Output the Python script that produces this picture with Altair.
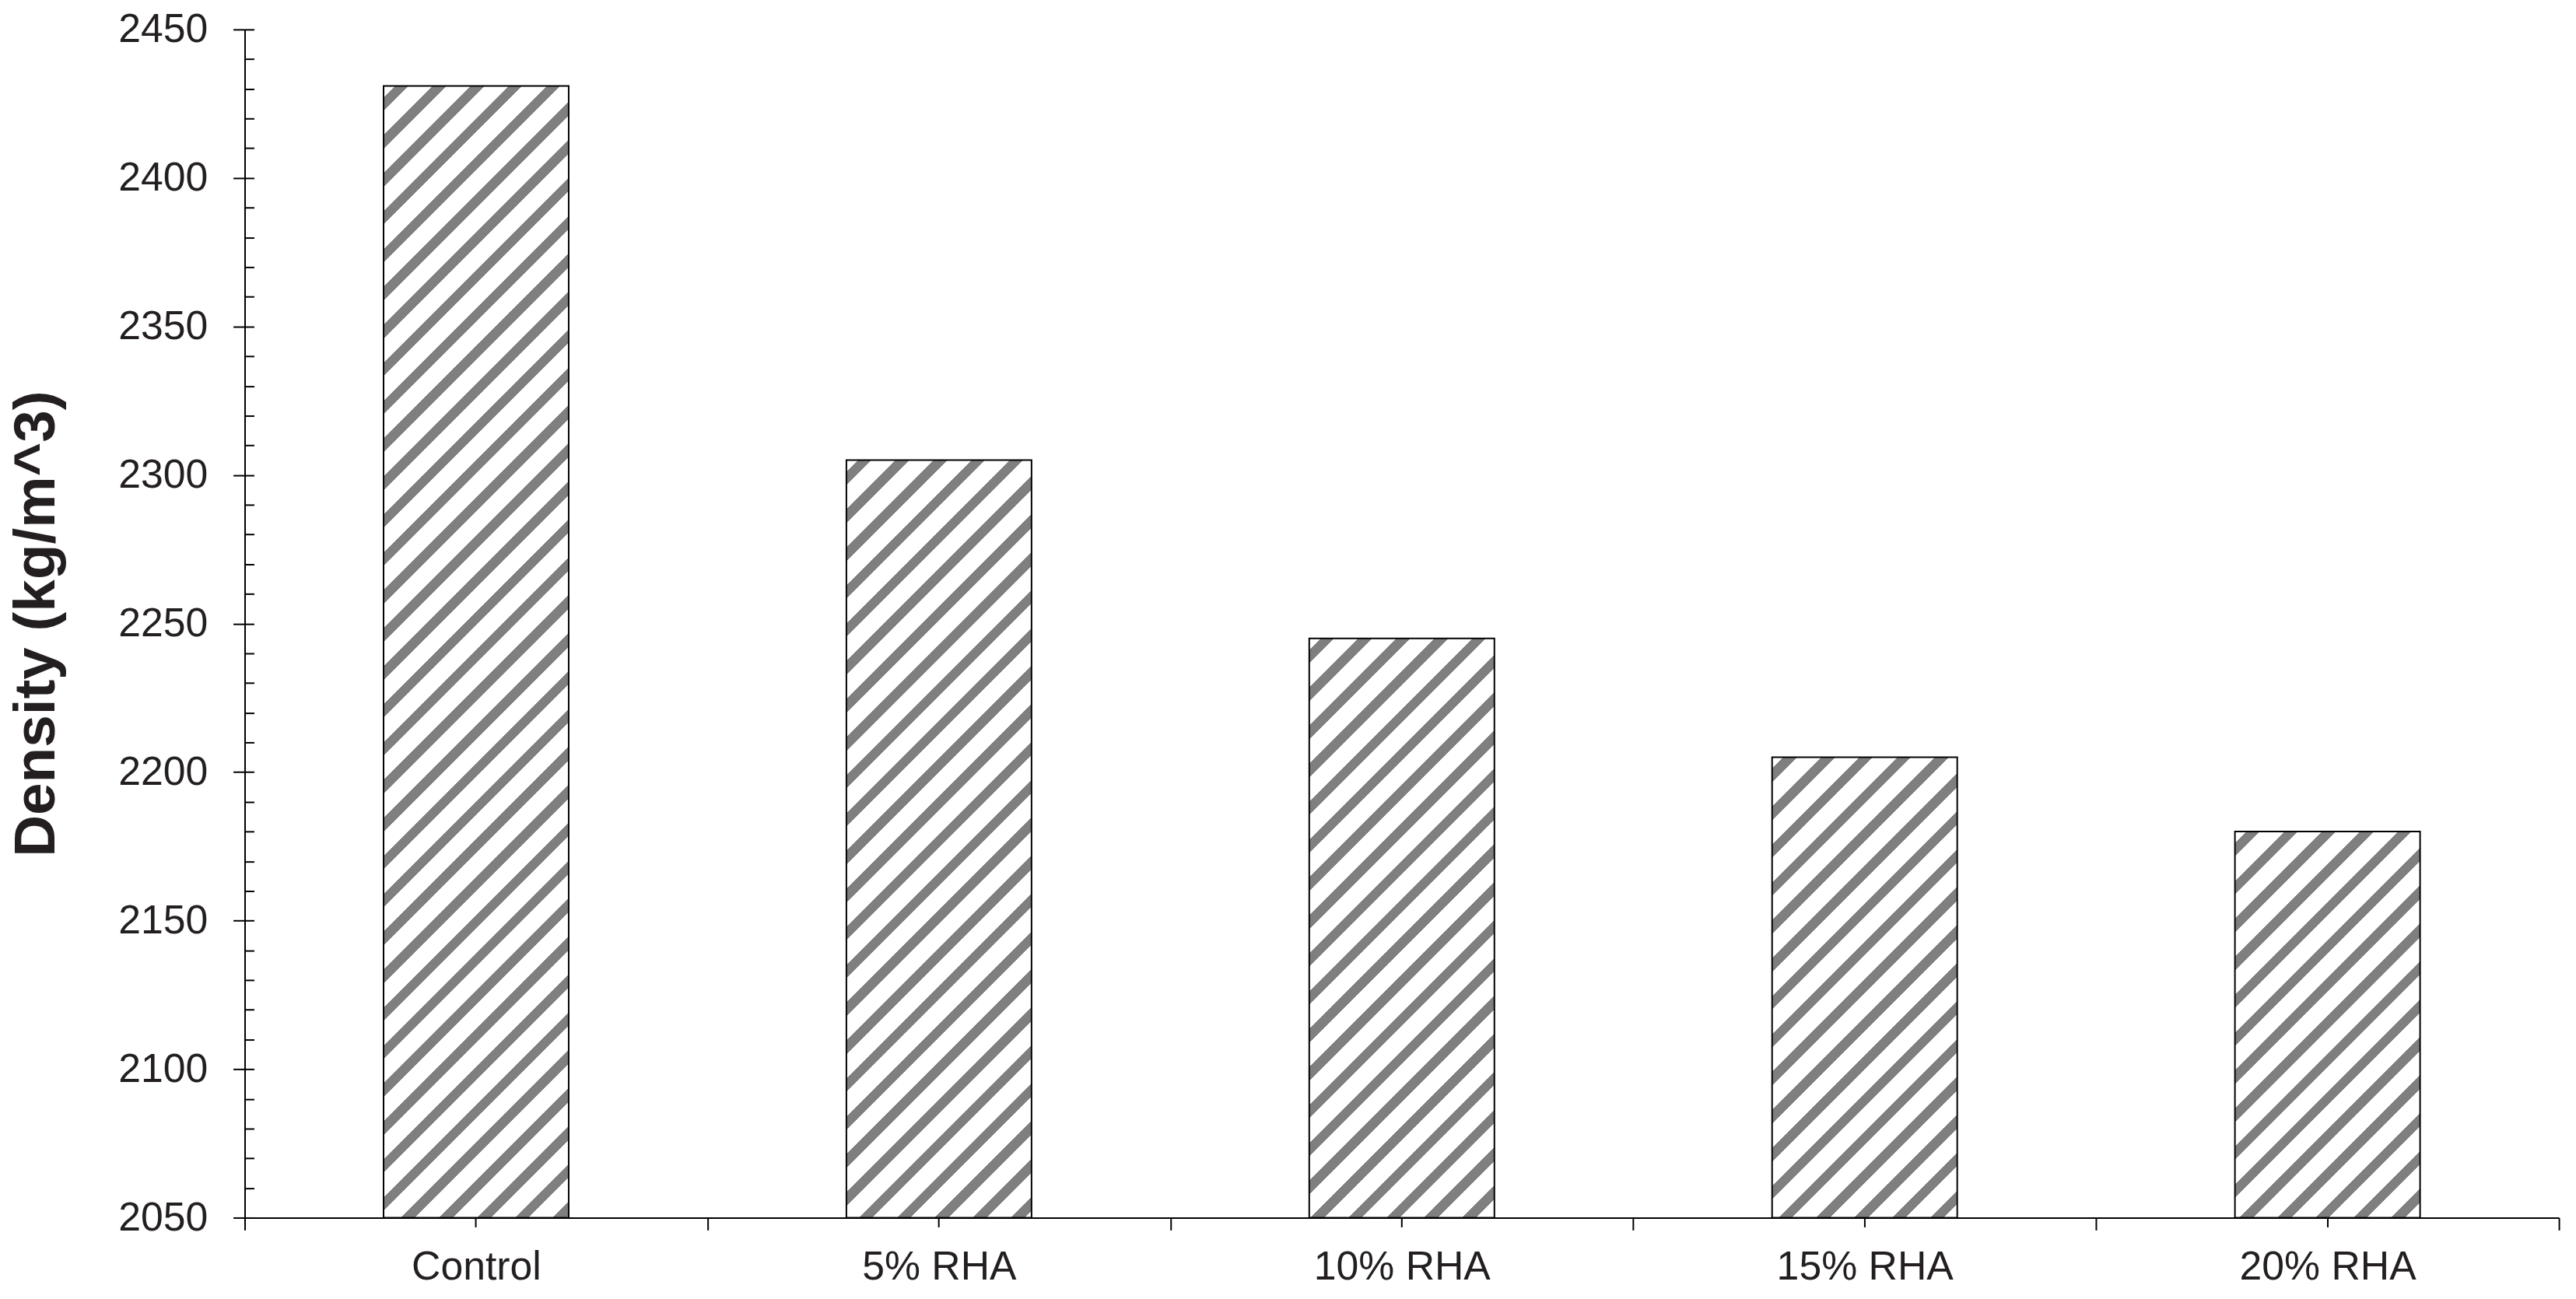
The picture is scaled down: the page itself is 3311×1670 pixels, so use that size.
import altair as alt
import pandas as pd

# ---- data ----
categories = ["Control", "5% RHA", "10% RHA", "15% RHA", "20% RHA"]
density = [2431, 2305, 2245, 2205, 2180]
y_min, y_max = 2050, 2450
major_ticks = list(range(2050, 2451, 50))
minor_ticks = list(range(2050, 2451, 10))

df = pd.DataFrame({"Mix": categories, "Density": density})

# ---- layout / style ----
PLOT_W, PLOT_H = 2989, 1535
BAR_FRAC = 0.4
BAR_W = PLOT_W / len(categories) * BAR_FRAC
FONT = "Liberation Sans, Arial, Helvetica, sans-serif"
TXT = "#231f20"
GRAY = "#7f7f7f"


def hatch(value, period=49.0, frac=0.36, phase=0.3):
    """Diagonal (/) stripe fill built as a hard-stop linear gradient."""
    h = (value - y_min) / (y_max - y_min) * PLOT_H
    w = BAR_W
    s = w * (w + h) / (w * w + h * h)
    p = period / (w + h)
    stops = [{"offset": 0, "color": "white"}]
    k = -1
    while True:
        a = (phase + k) * p
        b = a + frac * p
        k += 1
        if b <= 0:
            continue
        if a >= 1:
            break
        a0, b0 = max(a, 0.0), min(b, 1.0)
        stops.append({"offset": a0, "color": "white"})
        stops.append({"offset": a0, "color": GRAY})
        stops.append({"offset": b0, "color": GRAY})
        stops.append({"offset": b0, "color": "white"})
    stops.append({"offset": 1, "color": "white"})
    return {"gradient": "linear", "x1": 0, "y1": 0, "x2": s, "y2": s * h / w,
            "stops": stops}


fill_conditions = [
    {"test": f"datum.Mix === '{c}'", "value": hatch(v)}
    for c, v in zip(categories, density)
]

xscale = alt.Scale(paddingInner=0, paddingOuter=0)
yscale = alt.Scale(domain=[y_min, y_max], nice=False, zero=False)

bars = alt.Chart(df).mark_bar(
    stroke="black", strokeWidth=2, width={"band": BAR_FRAC}
).encode(
    x=alt.X("Mix:N", sort=categories, scale=xscale,
            axis=alt.Axis(orient="bottom", title=None, tickBand="extent",
                          tickSize=16, tickWidth=2, tickColor="black",
                          domainWidth=2, domainColor="black",
                          labelAngle=0, labelFontSize=52, labelFont=FONT,
                          labelColor=TXT, labelPadding=22, labelLimit=0)),
    y=alt.Y("Density:Q", scale=yscale,
            axis=alt.Axis(orient="left", values=major_ticks, format="d",
                          title="Density (kg/m^3)",
                          tickSize=15, tickWidth=2, tickColor="black",
                          domainWidth=2, domainColor="black",
                          labelFontSize=52, labelFont=FONT, labelColor=TXT,
                          labelPadding=33,
                          titleFontSize=75, titleFont=FONT, titleFontWeight="bold",
                          titleColor=TXT, titlePadding=67)),
    y2=alt.datum(y_min),
    fill={"condition": fill_conditions, "value": "white"},
)

# second set of axes: centre ticks on x, inward minor ticks on y
minor = alt.Chart(df).mark_bar(opacity=0).encode(
    x=alt.X("Mix:N", sort=categories,
            axis=alt.Axis(orient="bottom", title=None, tickBand="center",
                          tickSize=12, tickWidth=2, tickColor="black",
                          labels=False, domain=False)),
    y=alt.Y("Density:Q",
            axis=alt.Axis(orient="right", offset=-PLOT_W, values=minor_ticks,
                          title=None, tickSize=12, tickWidth=2, tickColor="black",
                          labels=False, domain=False)),
)

chart = alt.layer(bars, minor).resolve_axis(
    x="independent", y="independent"
).properties(
    width=PLOT_W, height=PLOT_H,
    autosize=alt.AutoSizeParams(type="none"),
    padding={"left": 308, "top": 26, "right": 14, "bottom": 90},
).configure_axis(grid=False).configure_view(strokeWidth=0)

chart.save("out.html", embed_options={"renderer": "svg", "actions": False})
